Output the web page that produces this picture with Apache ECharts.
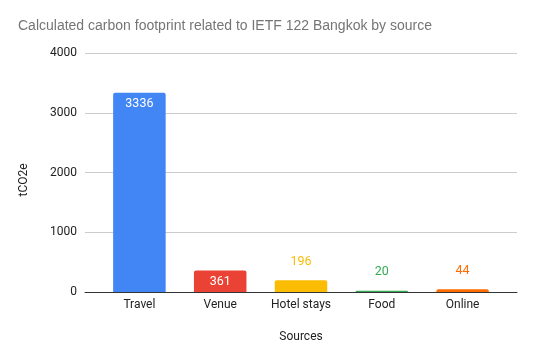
<!DOCTYPE html>
<html>
<head>
<meta charset="utf-8">
<script src="https://cdn.jsdelivr.net/npm/echarts@6/dist/echarts.min.js"></script>
<style>html,body{margin:0;padding:0;background:#fff}#c{width:535px;height:363px}</style>
</head>
<body>
<div id="c"></div>
<script>
const categories = ['Travel', 'Venue', 'Hotel stays', 'Food', 'Online'];
const values = [3336, 361, 196, 20, 44];
const barColors = ['#4285F4', '#EA4335', '#FBBC04', '#34A853', '#FF6D01'];
const labelInside = [true, true, false, false, false];
const yTicks = [0, 1000, 2000, 3000, 4000];

const FONT = 'Roboto, Arial, sans-serif';
const TITLE_FONT = 'Arial, "Liberation Sans", sans-serif';
const chart = echarts.init(document.getElementById('c'), null, {renderer: 'canvas'});

const data = values.map((v, i) => ({
  value: v,
  itemStyle: {color: barColors[i], borderRadius: [2, 2, 0, 0]},
  label: labelInside[i]
    ? {position: 'insideTop', distance: 5, color: '#ffffff'}
    : {position: 'top', distance: 12, color: barColors[i]}
}));

chart.setOption({
  animation: false,
  title: {
    text: 'Calculated carbon footprint related to IETF 122 Bangkok by source',
    left: 18, top: 19, padding: 0,
    textStyle: {fontFamily: TITLE_FONT, fontSize: 14, fontWeight: 'normal', color: '#757575'}
  },
  grid: [
    {left: 85, width: 432, top: 53, height: 239},
    {left: 99, width: 404, top: 53, height: 239}
  ],
  xAxis: [
    {gridIndex: 0, type: 'value', min: 0, max: 1, axisLine: {show: true, lineStyle: {color: '#333333', width: 1}},
     axisTick: {show: false}, axisLabel: {show: false}, splitLine: {show: false}},
    {gridIndex: 1, type: 'category', data: categories, axisLine: {show: false}, axisTick: {show: false},
     axisLabel: {margin: 7, fontFamily: FONT, fontSize: 12, color: '#222222'},
     name: 'Sources', nameLocation: 'middle', nameGap: 39,
     nameTextStyle: {fontFamily: FONT, fontSize: 12, color: '#222222'}}
  ],
  yAxis: [
    {gridIndex: 0, type: 'value', min: yTicks[0], max: yTicks[yTicks.length - 1], interval: 1000,
     axisLine: {show: false}, axisTick: {show: false},
     axisLabel: {margin: 8, fontFamily: FONT, fontSize: 12, color: '#222222', formatter: v => String(v)},
     splitLine: {show: true, lineStyle: {color: '#cccccc', width: 1}}},
    {gridIndex: 1, type: 'value', min: yTicks[0], max: yTicks[yTicks.length - 1], interval: 1000,
     show: false, splitLine: {show: false}}
  ],
  graphic: [{
    type: 'text', x: 24, y: 180, rotation: Math.PI / 2,
    style: {text: 'tCO2e', fontFamily: FONT, fontSize: 12, fill: '#222222', align: 'center', verticalAlign: 'middle'}
  }],
  series: [{
    type: 'bar', xAxisIndex: 1, yAxisIndex: 1, barWidth: '65%',
    data: data,
    label: {show: true, fontFamily: FONT, fontSize: 12.5}
  }]
});
</script>
</body>
</html>
